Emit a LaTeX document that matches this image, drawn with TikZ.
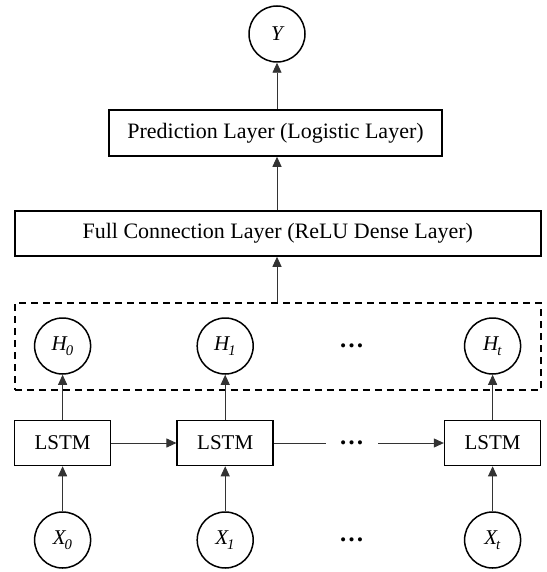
\documentclass[tikz,border=0pt]{standalone}
\usepackage{fontspec}
\setmainfont{Liberation Serif}
\usetikzlibrary{arrows.meta}

\tikzset{
  shape line/.style={draw=black, line width=1.5pt},
  layerbox/.style={shape line, rectangle, inner sep=0pt, font=\fontsize{22}{26}\selectfont},
  cellbox/.style={shape line, rectangle, minimum width=96pt, minimum height=45pt, inner sep=0pt,
    font=\fontsize{21}{25}\selectfont},
  varnode/.style={shape line, circle, minimum size=56pt, inner sep=0pt,
    font=\fontsize{21}{25}\selectfont\itshape},
  groupbox/.style={draw=black, line width=1.5pt, dash pattern=on 7pt off 5pt, rectangle, inner sep=0pt},
  link/.style={draw=black!80, line width=0.9pt, -{Triangle[length=10pt, width=9pt]}},
  plainlink/.style={draw=black!80, line width=0.9pt},
  dotsnode/.style={font=\fontsize{25}{28}\selectfont\bfseries, inner sep=0pt}
}

\newcommand{\vsub}[2]{#1\textsubscript{\kern-1pt\raisebox{-2pt}{#2}}}

\begin{document}
\begin{tikzpicture}[x=1pt, y=-1pt]
  \useasboundingbox (0,0) rectangle (546,572);

  % output and dense layers
  \node[varnode] (Y) at (277, 34) {Y};
  \node[layerbox, minimum width=333pt, minimum height=46pt] (pred) at (275.5, 133)
    {Prediction Layer (Logistic Layer)};
  \node[layerbox, minimum width=526pt, minimum height=45pt] (full) at (277.75, 233.5)
    {Full Connection Layer (ReLU Dense Layer)};

  % group of hidden states
  \node[groupbox, minimum width=526pt, minimum height=87pt] (hid) at (277.75, 346.5) {};

  % hidden states
  \node[varnode] (H0) at (62.6, 346) {\vsub{H}{0}};
  \node[varnode] (H1) at (225.2, 346) {\vsub{H}{1}};
  \node[varnode] (Ht) at (492.6, 346) {\vsub{H}{t}};
  \node[dotsnode] (hdots) at (351.5, 346) {…};

  % LSTM cells
  \node[cellbox] (L0) at (62.6, 443) {LSTM};
  \node[cellbox] (L1) at (225.2, 443) {LSTM};
  \node[cellbox] (Lt) at (492.6, 443) {LSTM};
  \node[dotsnode] (ldots) at (351.5, 443) {…};

  % inputs
  \node[varnode] (X0) at (62.6, 540) {\vsub{X}{0}};
  \node[varnode] (X1) at (225.2, 540) {\vsub{X}{1}};
  \node[varnode] (Xt) at (492.6, 540) {\vsub{X}{t}};
  \node[dotsnode] (xdots) at (351.5, 540) {…};

  % vertical flow
  \draw[link] (pred.north -| Y.south) -- (Y.south);
  \draw[link] (full.north -| Y.south) -- (pred.south -| Y.south);
  \draw[link] (hid.north -| Y.south) -- (full.south -| Y.south);

  \foreach \i in {0,1,t} {
    \draw[link] (X\i) -- (L\i);
    \draw[link] (L\i) -- (H\i);
  }

  % recurrent connections
  \coordinate (gapL) at (325.5, 443);
  \coordinate (gapR) at (378, 443);
  \draw[link] (L0) -- (L1);
  \draw[plainlink] (L1.east) -- (gapL);
  \draw[link] (gapR) -- (Lt.west);
\end{tikzpicture}
\end{document}
